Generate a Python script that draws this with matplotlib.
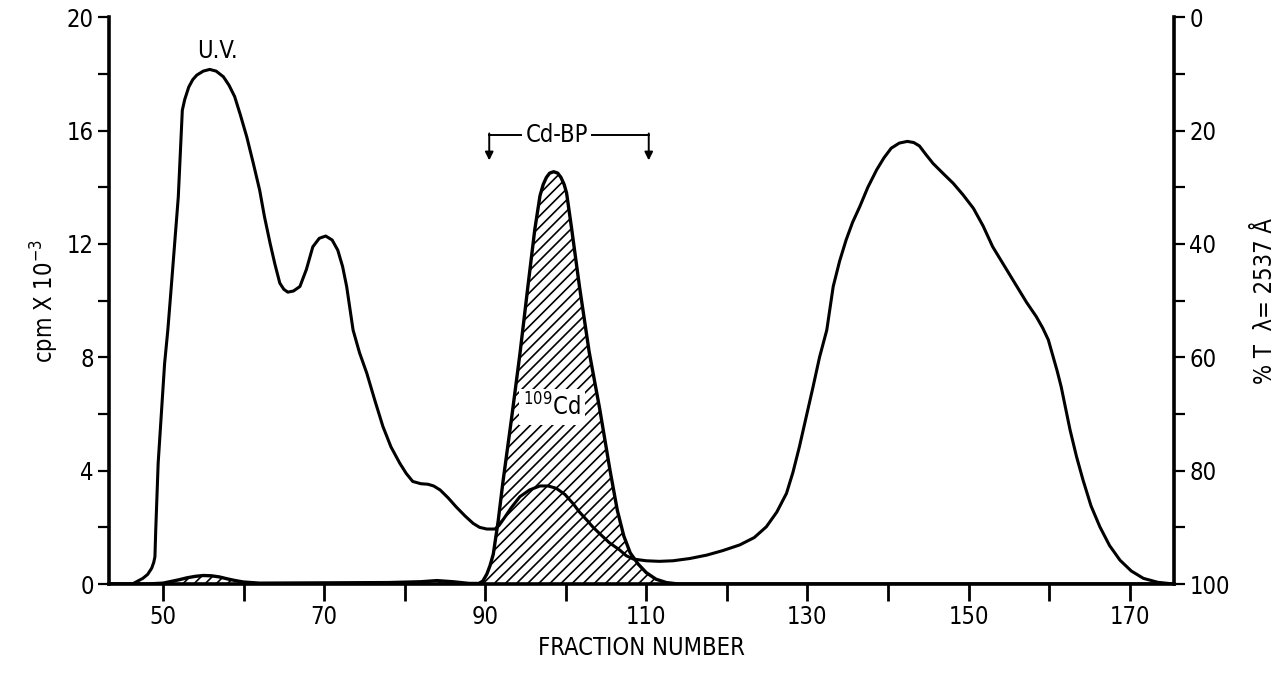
import matplotlib
matplotlib.use("Agg")
import matplotlib.pyplot as plt
from matplotlib import font_manager as fm
from matplotlib.ticker import MultipleLocator

# ---------------- data ----------------
# UV trace (% transmission at 2537 A, right axis, inverted)
uv_fraction = [43.3, 46.2, 47.5, 48.1, 48.6, 48.85, 49.0, 49.05, 49.1, 49.4, 49.8, 50.2,
               50.6, 51.0, 51.9, 52.4, 52.7, 53.2, 53.7, 54.2, 55.0, 55.8, 56.6, 57.5,
               58.2, 58.9, 59.6, 60.4, 61.2, 62.0, 62.6, 63.3, 63.9, 64.5, 65.0, 65.5,
               66.2, 67.0, 67.8, 68.6, 69.4, 70.2, 71.0, 71.7, 72.3, 72.8, 73.6, 74.4,
               75.3, 76.3, 77.3, 78.3, 79.4, 80.2, 81.0, 82.0, 82.9, 83.6, 84.4, 85.4,
               86.4, 87.5, 88.5, 89.3, 90.2, 91.2, 91.7, 92.2, 93.2, 94.3, 95.5, 96.8,
               97.8, 98.8, 99.9, 100.9, 101.7, 102.6, 103.4, 104.2, 105.4, 106.7, 107.5,
               108.4, 110.0, 111.6, 113.3, 115.4, 117.5, 119.5, 121.6, 123.4, 124.9,
               126.2, 127.4, 128.2, 129.0, 129.8, 130.7, 131.5, 132.4, 133.2, 134.0,
               134.8, 135.6, 136.5, 137.5, 138.6, 139.5, 140.4, 141.4, 142.4, 143.2,
               143.9, 144.7, 145.6, 146.8, 148.1, 149.3, 150.6, 151.8, 153.0, 154.5,
               156.0, 157.2, 158.4, 159.2, 159.9, 160.5, 161.0, 161.5, 162.6, 163.4,
               164.2, 165.2, 166.3, 167.5, 168.8, 170.2, 171.7, 173.5, 175.5]
uv_T = [100, 100, 99.0, 98.3, 97.2, 96.2, 95.2, 93.0, 90.5, 78.7, 69.9, 61.1,
        55.2, 48.1, 31.7, 16.4, 14.5, 12.3, 11.0, 10.2, 9.5, 9.2, 9.5, 10.5,
        12.0, 14.0, 17.2, 21.1, 25.7, 30.5, 35.2, 39.9, 43.6, 46.9, 48.0, 48.5,
        48.3, 47.5, 44.5, 40.5, 39.0, 38.6, 39.3, 41.1, 44.0, 47.5, 55.2, 59.2,
        62.8, 67.6, 72.2, 75.8, 78.7, 80.5, 81.9, 82.3, 82.4, 82.7, 83.4, 84.8,
        86.4, 88.0, 89.3, 90.0, 90.3, 90.3, 89.7, 88.7, 86.6, 84.6, 83.4, 82.7,
        82.7, 83.1, 84.2, 85.8, 87.3, 88.7, 90.0, 91.1, 92.7, 94.0, 95.0,
        95.6, 95.9, 96.0, 95.9, 95.5, 94.9, 94.1, 93.1, 91.8, 89.9,
        87.3, 84.0, 80.3, 75.8, 70.8, 65.2, 60.0, 55.2, 47.5, 43.0,
        39.3, 36.2, 33.4, 30.0, 26.9, 24.8, 23.1, 22.2, 21.9, 22.1,
        22.7, 24.2, 25.8, 27.5, 29.3, 31.3, 33.7, 36.8, 40.5, 44.0,
        47.5, 50.3, 52.8, 54.8, 56.9, 59.9, 62.4, 65.2, 72.8, 77.5,
        81.6, 86.2, 89.9, 93.2, 95.8, 97.7, 99.0, 99.7, 100]

# 109Cd radioactivity (cpm x 10^-3, left axis)
cd_fraction = [43.3, 48.0, 50.0, 52.0, 53.0, 54.0, 55.0, 56.0, 57.0, 58.0, 59.0, 60.0,
               62.0, 70.0, 78.0, 82.0, 84.0, 86.0, 88.0, 89.2, 89.7, 90.2, 90.6, 91.0,
               91.6, 92.2, 93.25, 94.3, 95.3, 96.15, 96.8, 97.2, 97.6, 98.0, 98.5, 99.0,
               99.4, 99.8, 100.1, 100.7, 101.7, 102.9, 104.2, 105.5, 106.4, 107.2, 108.0,
               109.0, 110.0, 111.2, 112.5, 114.0, 175.5]
cd_cpm = [0, 0, 0.03, 0.15, 0.22, 0.27, 0.30, 0.29, 0.25, 0.18, 0.12, 0.07,
          0.03, 0.04, 0.05, 0.08, 0.12, 0.08, 0.02, 0.02, 0.10, 0.35, 0.65, 1.05,
          2.2, 3.6, 5.8, 8.1, 10.5, 12.5, 13.7, 14.1, 14.35, 14.5, 14.55, 14.5,
          14.35, 14.1, 13.8, 12.6, 10.5, 8.2, 6.2, 4.0, 2.6, 1.7, 1.1,
          0.7, 0.4, 0.17, 0.05, 0, 0]

x_major = [50, 70, 90, 110, 130, 150, 170]
left_ticks = [0, 4, 8, 12, 16, 20]
right_ticks = [0, 20, 40, 60, 80, 100]

# ---------------- fonts ----------------
names = {f.name for f in fm.fontManager.ttflist}
dv_cond = any(f.name == "DejaVu Sans" and f.stretch == "condensed" for f in fm.fontManager.ttflist)
if "Liberation Sans Narrow" in names:
    FAM, STR = "Liberation Sans Narrow", "normal"
elif dv_cond:
    FAM, STR = "DejaVu Sans", "condensed"
else:
    FAM, STR = "Liberation Sans", "normal"
plt.rcParams["font.family"] = [FAM, "DejaVu Sans"]
plt.rcParams["font.stretch"] = STR
plt.rcParams["hatch.linewidth"] = 1.2
plt.rcParams["mathtext.fontset"] = "custom"
plt.rcParams["mathtext.rm"] = FAM
plt.rcParams["mathtext.it"] = FAM

fig = plt.figure(figsize=(12.84, 6.75), dpi=100)
ax = fig.add_axes([0.0849, 0.1348, 0.8294, 0.8396])
ax2 = ax.twinx()

XMIN, XMAX = 43.3, 175.5
ax.set_xlim(XMIN, XMAX)
ax.set_ylim(0, 20)
ax2.set_ylim(100, 0)

# hatched 109Cd area
ax.fill_between(cd_fraction, 0, cd_cpm, facecolor="white", edgecolor="black",
                hatch="///", linewidth=0, zorder=2)
ax.plot(cd_fraction, cd_cpm, color="black", lw=2.4, zorder=3,
        solid_joinstyle="round", solid_capstyle="round")

# UV trace
ax2.plot(uv_fraction, uv_T, color="black", lw=2.2, zorder=3,
         solid_joinstyle="round", solid_capstyle="round")

# spines
for a in (ax, ax2):
    a.spines["top"].set_visible(False)
ax.spines["left"].set_linewidth(2.6)
ax.spines["bottom"].set_linewidth(2.6)
ax2.spines["right"].set_linewidth(2.6)
ax2.spines["left"].set_visible(False)
ax2.spines["bottom"].set_visible(False)

# ticks
ax.set_xticks(x_major)
ax.xaxis.set_minor_locator(MultipleLocator(10))
ax.set_yticks(left_ticks)
ax.yaxis.set_minor_locator(MultipleLocator(2))
ax2.set_yticks(right_ticks)
ax2.yaxis.set_minor_locator(MultipleLocator(10))
ax.tick_params(axis="x", which="both", direction="out", length=12, width=2, labelsize=17, pad=3)
ax.tick_params(axis="y", which="both", direction="out", length=8, width=1.6, labelsize=17, pad=3)
ax2.tick_params(axis="y", which="both", direction="out", length=8, width=1.6, labelsize=17, pad=3)

ax.set_xlabel("FRACTION NUMBER", fontsize=17, labelpad=5)
ax.set_ylabel("cpm X 10$^{-3}$", fontsize=17, labelpad=4)
ax2.set_ylabel("% T  λ= 2537 Å", fontsize=17, rotation=90, labelpad=17)

# annotations
ax.text(56.7, 18.8, "U.V.", fontsize=17, ha="center", va="center")
ax.text(98.3, 6.25, "$^{109}$Cd", fontsize=17, ha="center", va="center", zorder=4,
        bbox=dict(facecolor="white", edgecolor="none", pad=3))
ax.text(98.9, 15.85, "Cd-BP", fontsize=17, ha="center", va="center")
ax.plot([90.5, 94.4], [15.85, 15.85], color="black", lw=1.4)
ax.plot([103.3, 110.3], [15.85, 15.85], color="black", lw=1.4)
for xa in (90.5, 110.3):
    ax.annotate("", xy=(xa, 14.95), xytext=(xa, 15.9),
                arrowprops=dict(arrowstyle="-|>", color="black", lw=1.4,
                                mutation_scale=12, shrinkA=0, shrinkB=0))

fig.savefig("out.png", dpi=100)
